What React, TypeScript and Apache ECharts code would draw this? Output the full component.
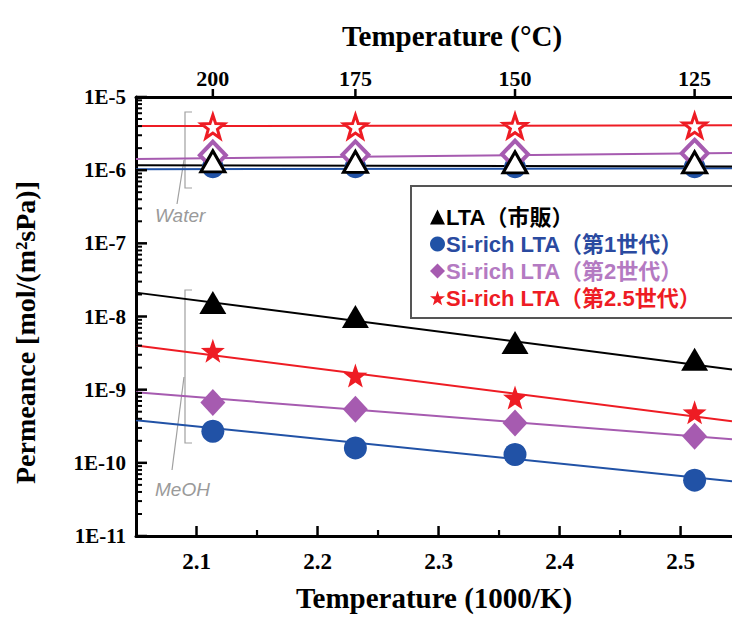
import React, { useEffect, useRef } from 'react';
import * as echarts from 'echarts';

// ---- data ----
const seriesNames = ['LTA（市販）', 'Si-rich LTA（第1世代）', 'Si-rich LTA（第2世代）', 'Si-rich LTA（第2.5世代）'];
// x positions (1000/K) of the measured temperatures 200, 175, 150, 125 °C
const xInvT = [2.1135, 2.2313, 2.3632, 2.5116];
const topTickLabels = ['200', '175', '150', '125'];
const bottomTickValues = [2.1, 2.2, 2.3, 2.4, 2.5];
const bottomMinorTickValues = [2.15, 2.25, 2.35, 2.45];
const yDecades = [1e-11, 1e-10, 1e-9, 1e-8, 1e-7, 1e-6, 1e-5];

// MeOH permeance
const meohLTA = [1.55e-8, 1.0e-8, 4.4e-9, 2.6e-9];
const meohSi1 = [2.7e-10, 1.6e-10, 1.3e-10, 5.8e-11];
const meohSi2 = [6.7e-10, 5.4e-10, 3.5e-10, 2.3e-10];
const meohSi25 = [3.4e-9, 1.56e-9, 7.8e-10, 4.9e-10];
// Water permeance
const waterLTA = [1.32e-6, 1.3e-6, 1.28e-6, 1.28e-6];
const waterSi1 = [1.1e-6, 1.1e-6, 1.1e-6, 1.1e-6];
const waterSi2 = [1.6e-6, 1.62e-6, 1.65e-6, 1.7e-6];
const waterSi25 = [3.95e-6, 3.95e-6, 4.0e-6, 4.05e-6];

// Fit lines: [x, y] end points
const fitX = [2.05, 2.5425];
const fitMeohLTA = [2.12e-8, 1.89e-9];
const fitMeohSi1 = [3.82e-10, 5.62e-11];
const fitMeohSi2 = [9.19e-10, 2.1e-10];
const fitMeohSi25 = [4.02e-9, 3.7e-10];
const fitWaterLTA = [1.17e-6, 1.12e-6];
const fitWaterSi1 = [1.03e-6, 1.06e-6];
const fitWaterSi2 = [1.42e-6, 1.72e-6];
const fitWaterSi25 = [4.0e-6, 4.1e-6];

const colors = ['#000000', '#2152a6', '#a65bb0', '#ee1c24'];
const legendTextColors = ['#000000', '#2a4aa0', '#b47ac2', '#ee1c24'];

const STAR = 'path://M0,-10L2.35,-3.24L9.51,-3.09L3.8,1.24L5.88,8.09L0,4.2L-5.88,8.09L-3.8,1.24L-9.51,-3.09L-2.35,-3.24Z';
const symbols = ['triangle', 'circle', 'diamond', STAR];
const meohSizes: any[] = [[27, 23], 23, [25, 27], 24];
const waterSizes: any[] = [[24, 21], 22, [26, 27], 23];

const SERIF = "'Liberation Serif', 'Times New Roman', serif";
const SANS = "'Liberation Sans', Arial, 'Noto Sans CJK JP', sans-serif";

const X_MIN = 2.05;
const X_MAX = 2.5425;
const Y_MIN = 1e-11;
const Y_MAX = 1e-5;
const PLOT_W = 596;
const PLOT_H = 440;

const pts = (ys: number[]) => xInvT.map((x, i) => [x, ys[i]]);
const fit = (ys: number[]) => fitX.map((x, i) => [x, ys[i]]);

export default function App() {
  const ref = useRef<HTMLDivElement>(null);
  useEffect(() => {
    if (!ref.current) return;
    const chart = echarts.init(ref.current, undefined, { renderer: 'svg' });
    const meoh = [meohLTA, meohSi1, meohSi2, meohSi25];
    const water = [waterLTA, waterSi1, waterSi2, waterSi25];
    const fitsM = [fitMeohLTA, fitMeohSi1, fitMeohSi2, fitMeohSi25];
    const fitsW = [fitWaterLTA, fitWaterSi1, fitWaterSi2, fitWaterSi25];
    const zWater = [9, 6, 7, 8];
    const series: any[] = [];
    seriesNames.forEach((name, i) => {
      series.push({
        type: 'scatter', name, data: pts(meoh[i]), symbol: symbols[i], symbolSize: meohSizes[i],
        itemStyle: { color: colors[i], opacity: 1 }, z: 5,
      });
    });
    seriesNames.forEach((name, i) => {
      series.push({
        type: 'scatter', name, data: pts(water[i]), symbol: symbols[i], symbolSize: waterSizes[i],
        itemStyle: i === 1
          ? { color: colors[i], opacity: 1 }
          : { color: '#ffffff', borderColor: colors[i], borderWidth: i === 2 ? 4 : 3, opacity: 1 },
        z: zWater[i],
      });
      series.push({
        type: 'line', name, data: fit(fitsM[i]), showSymbol: false, symbol: 'none',
        lineStyle: { color: colors[i], width: 2 }, z: 3,
      });
      series.push({
        type: 'line', name, data: fit(fitsW[i]), showSymbol: false, symbol: 'none',
        lineStyle: { color: colors[i], width: 2 }, z: i === 0 ? 4 : 3,
      });
    });

    const minorY: number[] = [];
    for (let d = -11; d < -5; d++) for (let k = 2; k <= 9; k++) minorY.push(k * Math.pow(10, d));

    // Tick marks as short line series, drawn through the axes' scales.
    // Tick length in pixels converted to axis units.
    const pxPerDecade = PLOT_H / (Math.log10(Y_MAX) - Math.log10(Y_MIN));
    const xUnitsPerPx = (X_MAX - X_MIN) / PLOT_W;
    const tickSeg = (a: number[], b: number[], w: number) => ({
      type: 'line', data: [a, b], showSymbol: false, symbol: 'none', silent: true, clip: false,
      lineStyle: { color: '#000', width: w, cap: 'butt' }, z: 12, tooltip: { show: false },
    });
    const up = (y: number, px: number) => y * Math.pow(10, px / pxPerDecade);
    bottomTickValues.forEach((v) => series.push(tickSeg([v, Y_MIN], [v, up(Y_MIN, 10)], 2.5)));
    bottomMinorTickValues.forEach((v) => series.push(tickSeg([v, Y_MIN], [v, up(Y_MIN, 6)], 2.2)));
    xInvT.forEach((v) => series.push(tickSeg([v, Y_MAX], [v, up(Y_MAX, 8)], 2.5)));
    yDecades.forEach((v) => series.push(tickSeg([X_MIN, v], [X_MIN + 11 * xUnitsPerPx, v], 2.5)));
    minorY.forEach((v) => series.push(tickSeg([X_MIN, v], [X_MIN + 6 * xUnitsPerPx, v], 2)));

    const axisLineStyle = { color: '#000', width: 3 };

    chart.setOption({
      animation: false,
      textStyle: { fontFamily: SERIF },
      grid: { left: 136, right: 0, top: 97, bottom: 80, containLabel: false },
      xAxis: [
        {
          type: 'value', position: 'bottom', min: X_MIN, max: X_MAX,
          axisLine: { onZero: false, lineStyle: axisLineStyle },
          axisTick: { show: false },
          axisLabel: {
            customValues: bottomTickValues, formatter: (v: number) => v.toFixed(1),
            fontSize: 23, fontWeight: 'bold', fontFamily: SERIF, color: '#000', margin: 14,
          },
          splitLine: { show: false },
          name: 'Temperature (1000/K)', nameLocation: 'middle', nameGap: 47,
          nameTextStyle: { fontSize: 29, fontWeight: 'bold', fontFamily: SERIF, color: '#000' },
        },
        {
          type: 'value', position: 'top', min: X_MIN, max: X_MAX,
          axisLine: { onZero: false, lineStyle: axisLineStyle },
          axisTick: { show: false },
          axisLabel: {
            customValues: xInvT,
            formatter: (v: number) => {
              let best = 0;
              xInvT.forEach((x, i) => { if (Math.abs(x - v) < Math.abs(xInvT[best] - v)) best = i; });
              return topTickLabels[best];
            },
            fontSize: 22, fontWeight: 'bold', fontFamily: SERIF, color: '#000', margin: 8,
          },
          splitLine: { show: false },
          name: 'Temperature (°C)', nameLocation: 'middle', nameGap: 47,
          nameTextStyle: { fontSize: 29, fontWeight: 'bold', fontFamily: SERIF, color: '#000', padding: [0, 0, 0, 36] },
        },
      ],
      yAxis: [
        {
          type: 'log', logBase: 10, min: Y_MIN, max: Y_MAX,
          axisLine: { onZero: false, lineStyle: axisLineStyle },
          axisTick: { show: false },
          axisLabel: {
            customValues: yDecades,
            formatter: (v: number) => '1E' + Math.round(Math.log10(v)),
            fontSize: 21, fontWeight: 'bold', fontFamily: SERIF, color: '#000', margin: 10,
          },
          splitLine: { show: false },
          name: 'Permeance [mol/(m²sPa)]', nameLocation: 'middle', nameGap: 97, nameRotate: 90,
          nameTextStyle: { fontSize: 28, fontWeight: 'bold', fontFamily: SERIF, color: '#000', padding: [0, 0, 0, -32] },
        },
      ],
      legend: {
        orient: 'vertical', left: 425, top: 201, itemWidth: 15, itemHeight: 15, itemGap: 5,
        selectedMode: false,
        data: seriesNames.map((n, i) => ({ name: n, icon: symbols[i], textStyle: { color: legendTextColors[i] } })),
        textStyle: { fontSize: 22, fontWeight: 'bold', fontFamily: SANS, padding: [0, 0, 0, -4] },
        z: 20,
      },
      graphic: [
        {
          type: 'rect', shape: { x: 411, y: 186, width: 340, height: 132 },
          style: { fill: '#fff', stroke: '#555', lineWidth: 2 }, z: 15,
        },
        {
          type: 'polyline', shape: { points: [[192, 112], [185, 112], [185, 188], [192, 188]] },
          style: { stroke: '#a0a0a0', lineWidth: 1.2, fill: null }, z: 1,
        },
        {
          type: 'line', shape: { x1: 184, y1: 160, x2: 177, y2: 204 },
          style: { stroke: '#a0a0a0', lineWidth: 1.2 }, z: 1,
        },
        {
          type: 'text', x: 155, y: 215,
          style: { text: 'Water', fill: '#9a9a9a', font: "italic 19px 'Liberation Sans', Arial, sans-serif", verticalAlign: 'middle' },
        },
        {
          type: 'polyline', shape: { points: [[192, 290], [185, 290], [185, 443], [192, 443]] },
          style: { stroke: '#a0a0a0', lineWidth: 1.2, fill: null }, z: 1,
        },
        {
          type: 'line', shape: { x1: 184, y1: 377, x2: 172, y2: 470 },
          style: { stroke: '#a0a0a0', lineWidth: 1.2 }, z: 1,
        },
        {
          type: 'text', x: 155, y: 489,
          style: { text: 'MeOH', fill: '#9a9a9a', font: "italic 19px 'Liberation Sans', Arial, sans-serif", verticalAlign: 'middle' },
        },
      ],
      series,
    });

    return () => chart.dispose();
  }, []);
  return <div ref={ref} style={{ position: 'fixed', left: 0, top: 0, width: 732, height: 617, background: '#fff' }} />;
}
